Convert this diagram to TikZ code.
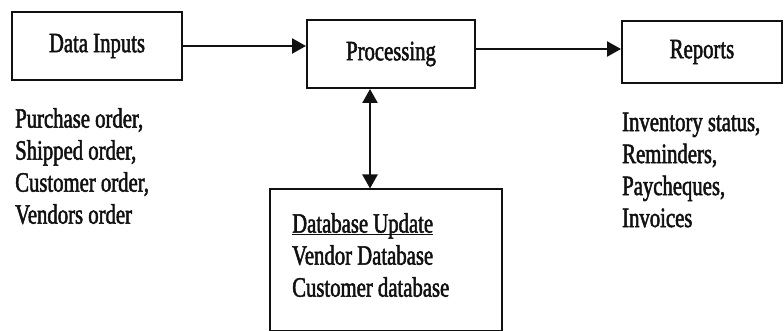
\documentclass[tikz,border=0pt]{standalone}
\usepackage{fontspec}
\newfontfamily\scanfont[FakeStretch=0.74, FakeBold=1.8]{Liberation Serif}
\usetikzlibrary{arrows.meta, positioning, calc}
\definecolor{ScanInk}{HTML}{111111}
\tikzset{
  stagebox/.style={draw=ScanInk, line width=2pt, inner sep=0pt,
    font=\scanfont\fontsize{28}{32}\selectfont, text=ScanInk},
  itemlist/.style={anchor=north west, inner sep=0pt, align=left, text=ScanInk,
    font=\scanfont\fontsize{28}{32}\selectfont},
  flow/.style={draw=ScanInk, line width=2.4pt, -{Triangle[length=14pt,width=15pt]}},
}

\begin{document}
\begin{tikzpicture}[x=1pt, y=-1pt]
  \useasboundingbox[fill=white] (0,0) rectangle (784,331);

  % the three stages
  \node[stagebox, minimum width=170pt, minimum height=68pt] (inputs) at (97,46) {Data Inputs};
  \node[stagebox, minimum width=168pt, minimum height=68pt] (proc) at (391,54) {Processing};
  \node[stagebox, minimum width=160pt, minimum height=62pt] (reports) at (702,52) {Reports};
  \node[stagebox, minimum width=232pt, minimum height=141pt] (dbase) at (386,260) {};

  % lists under the boxes
  \node[itemlist] (inlist) at (15,108) {
    Purchase order,\\ Shipped order,\\ Customer order,\\ Vendors order};
  \node[itemlist] (replist) at (622,112.5) {
    Inventory status,\\ Reminders,\\ Paycheques,\\ Invoices};
  \node[itemlist] (dblist) at (292,213) {
    \underline{\raisebox{0pt}[\height][0pt]{Database Update}}\\ Vendor Database\\ Customer database};

  % connectors
  \draw[flow] (inputs.east) -- (inputs.east -| proc.west);
  \draw[flow] ([yshift=5pt]proc.east) -- ([yshift=5pt]proc.east -| reports.west);
  \draw[flow, {Triangle[length=14pt,width=15pt]}-{Triangle[length=14pt,width=15pt]}]
    ([xshift=-21pt]proc.south) -- ([xshift=-21pt]proc.south |- dbase.north);
\end{tikzpicture}
\end{document}
